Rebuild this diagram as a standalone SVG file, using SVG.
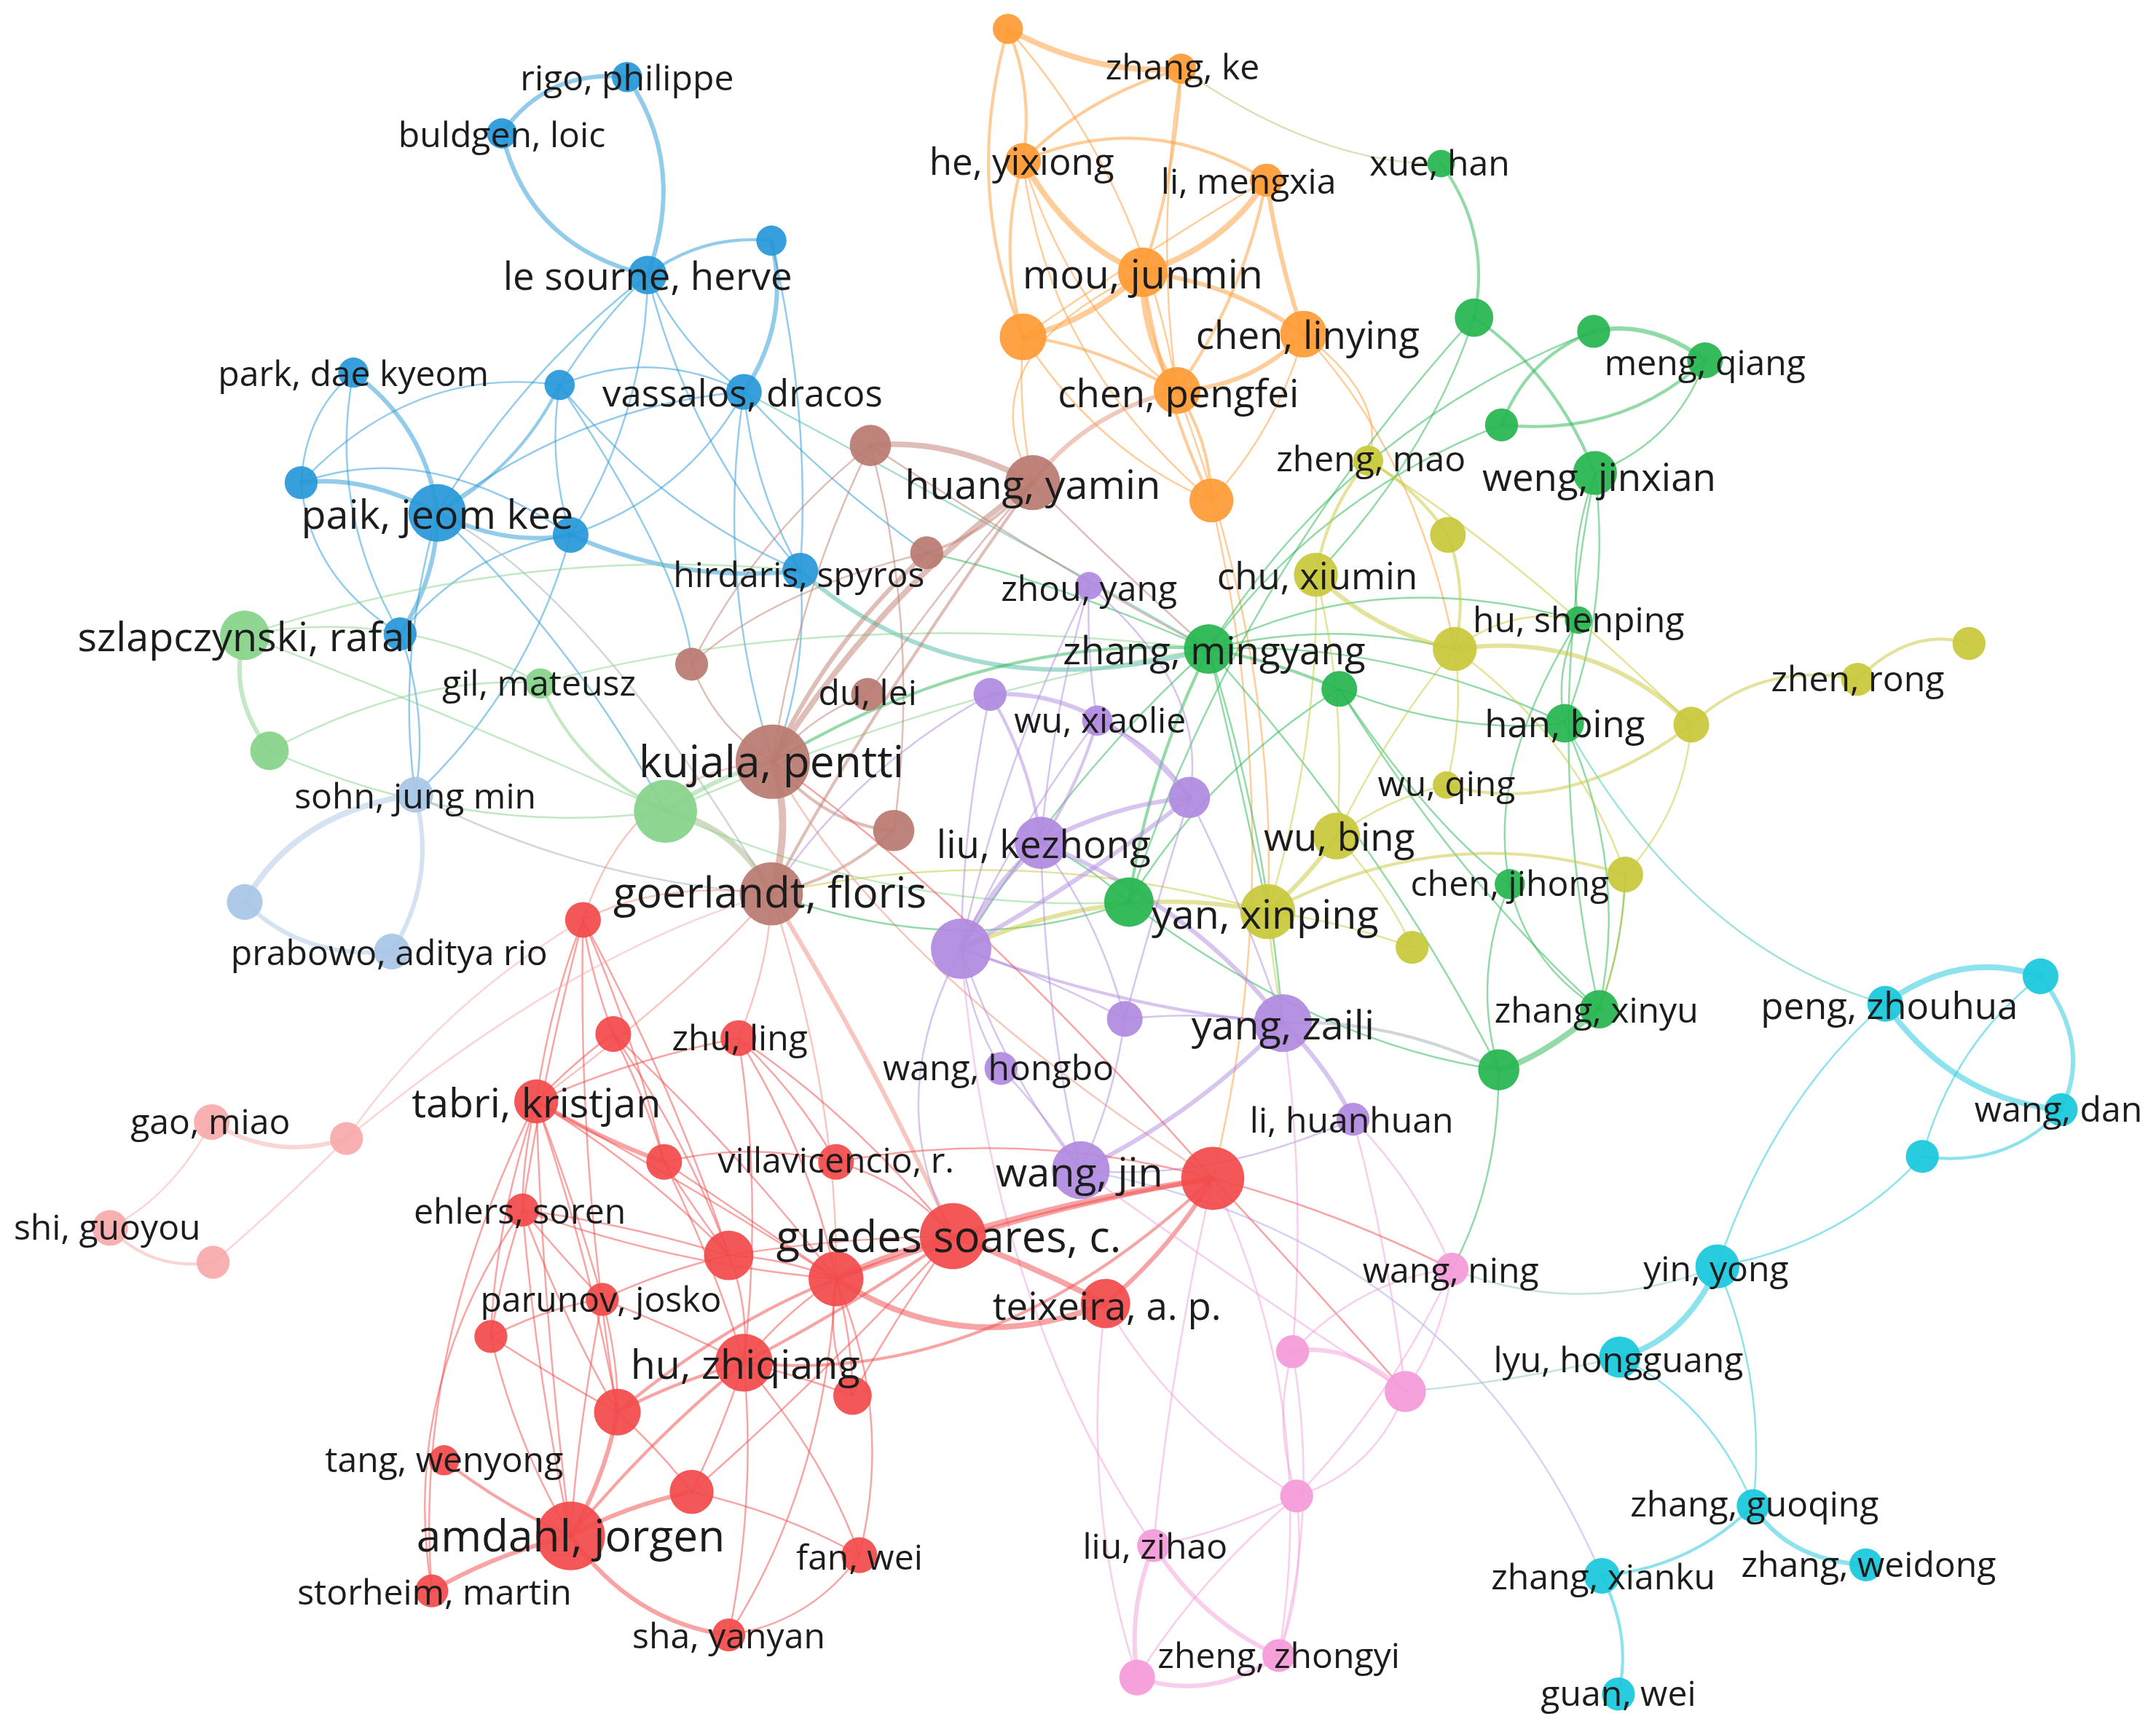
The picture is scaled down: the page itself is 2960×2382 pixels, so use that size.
<svg xmlns="http://www.w3.org/2000/svg" width="2960" height="2382" viewBox="0 0 2960 2382">
<style>
.e{fill:none;stroke-linecap:round;stroke-opacity:.5;stroke-width:1.3}
.eB{stroke:#2898d8}.eLG{stroke:#86d38a}.eLB{stroke:#a9c6e6}.eO{stroke:#ff9b35}.eBR{stroke:#c07d72}.eG{stroke:#26b64f}.eY{stroke:#c8c83a}.eP{stroke:#b08ae0}.eR{stroke:#f24a4a}.eS{stroke:#f8aaaa}.eK{stroke:#f49bd9}.eC{stroke:#19c8dc}.eT{stroke:#49b9a4}.eGr{stroke:#9fb0b8}
.w2{stroke-width:2.2}.w3{stroke-width:3.2}.w4{stroke-width:4.2}.w5{stroke-width:5.2}
circle{fill-opacity:.93}
.B{fill:#2898d8}.LG{fill:#86d38a}.LB{fill:#a9c6e6}.O{fill:#ff9b35}.BR{fill:#b97a70}.G{fill:#26b64f}.Y{fill:#c8c83a}.P{fill:#b08ae0}.R{fill:#f24a4a}.S{fill:#f8aaaa}.K{fill:#f49bd9}.C{fill:#19c8dc}
text{font-family:"Open Sans","Noto Sans","Liberation Sans",sans-serif;fill:#1c1c1c;text-anchor:middle;dominant-baseline:central}
.s{font-size:25.5px}.s2{font-size:27px}.m{font-size:28px}.l{font-size:29.5px}.xl{font-size:32px}
</style>
<rect width="2960" height="2382" fill="#ffffff"/>
<g transform="scale(1.8878)">
<g id="connectors">
<!-- blue -->
<path class="e eB w3" d="M456 56Q398 50 365 97"/>
<path class="e eB w3" d="M365 97Q385 180 471 200"/>
<path class="e eB w3" d="M456 56Q500 120 471 200"/>
<path class="e eB w2" d="M471 200Q511 170 561 175"/>
<path class="e eB w3" d="M561 175Q575 234 541 285"/>
<path class="e eB" d="M471 200Q434 236 407 280"/>
<path class="e eB" d="M471 200Q495 252 541 285"/>
<path class="e eB" d="M471 200Q470 300 415 389"/>
<path class="e eB" d="M471 200Q500 320 582 415"/>
<path class="e eB" d="M471 200Q380 270 318 373"/>
<path class="e eB w2" d="M318 373Q378 340 407 280"/>
<path class="e eB w3" d="M257 271Q310 310 318 373"/>
<path class="e eB" d="M257 271Q222 300 219 351"/>
<path class="e eB" d="M219 351Q300 265 407 280"/>
<path class="e eB" d="M257 271Q238 370 291 461"/>
<path class="e eB" d="M219 351Q225 420 291 461"/>
<path class="e eB w3" d="M219 351Q265 345 318 373"/>
<path class="e eB" d="M219 351Q310 318 415 389"/>
<path class="e eB w3" d="M318 373Q368 398 415 389"/>
<path class="e eB w3" d="M318 373Q318 420 291 461"/>
<path class="e eB w3" d="M415 389Q495 425 582 415"/>
<path class="e eB" d="M407 280Q475 252 541 285"/>
<path class="e eB" d="M407 280Q480 372 582 415"/>
<path class="e eB" d="M407 280Q398 335 415 389"/>
<path class="e eB" d="M541 285Q548 355 582 415"/>
<path class="e eB" d="M541 285Q500 360 415 389"/>
<path class="e eB" d="M541 285Q420 295 318 373"/>
<path class="e eB" d="M415 389Q340 400 291 461"/>
<path class="e eB" d="M291 461Q312 520 302 578"/>
<path class="e eB" d="M318 373Q288 480 302 578"/>
<path class="e eB" d="M415 389Q385 500 302 578"/>
<path class="e eB" d="M582 415Q588 490 562 554"/>
<path class="e eB" d="M541 285Q520 420 562 554"/>
<path class="e eB" d="M541 285Q600 350 674 402"/>
<path class="e eB" d="M561 175Q590 300 582 415"/>
<path class="e eB" d="M318 373Q420 470 484 590"/>
<path class="e eB" d="M407 280Q500 420 503 483"/>
<path class="e eGr" d="M318 373Q430 430 561 650"/>
<path class="e eT w3" d="M582 415Q700 520 879 472"/>
<path class="e eT" d="M541 285Q720 380 879 472"/>
<!-- light green -->
<path class="e eLG w3" d="M178 462Q165 505 196 546"/>
<path class="e eLG" d="M178 462Q290 440 393 497"/>
<path class="e eLG" d="M178 462Q330 520 484 590"/>
<path class="e eLG" d="M196 546Q300 490 393 497"/>
<path class="e eLG" d="M196 546Q340 610 484 590"/>
<path class="e eLG w2" d="M393 497Q420 560 484 590"/>
<path class="e eLG w3" d="M484 590Q520 565 562 554"/>
<path class="e eLG w4" d="M484 590Q535 600 561 650" style="stroke:#a8b68a"/>
<path class="e eLG" d="M484 590Q690 500 879 472"/>
<path class="e eLG" d="M484 590Q650 665 821 656"/>
<path class="e eLG" d="M178 462Q380 395 582 415"/>
<path class="e eLG" d="M393 497Q600 440 879 472"/>
<!-- light blue -->
<path class="e eLB w4" d="M302 578Q215 590 178 656"/>
<path class="e eLB w3" d="M178 656Q220 698 285 692"/>
<path class="e eLB w3" d="M302 578Q318 640 285 692"/>
<path class="e eGr" d="M302 578Q420 640 561 650"/>
<!-- orange -->
<path class="e eO w4" d="M733 21Q795 55 859 50"/>
<path class="e eO w2" d="M733 21Q752 65 744 117"/>
<path class="e eO w2" d="M733 21Q700 135 744 245"/>
<path class="e eO" d="M733 21Q830 130 856 284"/>
<path class="e eO w2" d="M859 50Q790 70 744 117"/>
<path class="e eO w2" d="M859 50Q855 130 831 198"/>
<path class="e eO" d="M859 50Q840 170 856 284"/>
<path class="e eO" d="M859 50Q960 120 1048 119" style="stroke:#bcc070"/>
<path class="e eO w4" d="M744 117Q780 180 831 198"/>
<path class="e eO w2" d="M744 117Q725 180 744 245"/>
<path class="e eO w2" d="M744 117Q835 78 921 131"/>
<path class="e eO" d="M744 117Q780 230 856 284"/>
<path class="e eO" d="M744 117Q760 260 881 364"/>
<path class="e eO w4" d="M921 131Q890 180 831 198"/>
<path class="e eO w3" d="M921 131Q930 190 948 243"/>
<path class="e eO w2" d="M921 131Q905 215 856 284"/>
<path class="e eO" d="M921 131Q845 175 744 245"/>
<path class="e eO w4" d="M831 198Q790 235 744 245"/>
<path class="e eO w3" d="M831 198Q895 205 948 243"/>
<path class="e eO w4" d="M831 198Q830 245 856 284"/>
<path class="e eO w2" d="M831 198Q845 290 881 364"/>
<path class="e eO w2" d="M744 245Q795 250 856 284"/>
<path class="e eO" d="M744 245Q740 300 751 351"/>
<path class="e eO" d="M744 245Q800 330 881 364"/>
<path class="e eO w3" d="M948 243Q910 282 856 284"/>
<path class="e eO" d="M948 243Q930 310 881 364"/>
<path class="e eO w2" d="M856 284Q880 320 881 364"/>
<path class="e eO w3" d="M856 284Q790 300 751 351" style="stroke:#e0957a"/>
<path class="e eO" d="M948 243Q1030 330 1058 472"/>
<path class="e eO" d="M881 364Q940 620 882 857"/>
<path class="e eO" d="M856 284Q930 480 922 663"/>
<path class="e eO" d="M948 243Q1010 290 995 335"/>
<path class="e eO" d="M831 198Q700 260 751 351"/>
<!-- brown -->
<path class="e eBR w4" d="M633 324Q690 318 751 351"/>
<path class="e eBR" d="M633 324Q580 430 562 554"/>
<path class="e eBR" d="M633 324Q550 390 503 483"/>
<path class="e eBR w2" d="M751 351Q715 390 674 402"/>
<path class="e eBR w4" d="M751 351Q640 430 562 554"/>
<path class="e eBR w2" d="M751 351Q630 520 561 650"/>
<path class="e eBR" d="M751 351Q690 420 631 505"/>
<path class="e eBR w3" d="M674 402Q600 470 562 554"/>
<path class="e eBR" d="M503 483Q520 530 562 554"/>
<path class="e eBR" d="M631 505Q590 520 562 554"/>
<path class="e eBR w2" d="M562 554Q600 600 650 604"/>
<path class="e eBR w5" d="M562 554Q577 600 561 650"/>
<path class="e eBR w2" d="M650 604Q610 640 561 650"/>
<path class="e eBR" d="M633 324Q670 460 650 604"/>
<path class="e eBR" d="M674 402Q560 430 503 483"/>
<path class="e eBR" d="M562 554Q460 560 424 669" style="stroke:#f0907f"/>
<path class="e eBR" d="M561 650Q480 640 424 669" style="stroke:#f0907f"/>
<path class="e eBR w3" d="M561 650Q640 780 693 899" style="stroke:#f0907f"/>
<path class="e eBR" d="M561 650Q610 800 608 930" style="stroke:#f0907f"/>
<path class="e eBR" d="M561 650Q500 720 390 801" style="stroke:#f0907f"/>
<path class="e eBR" d="M561 650Q560 700 537 755" style="stroke:#f0907f"/>
<path class="e eBR" d="M633 324Q780 420 879 472"/>
<path class="e eBR" d="M751 351Q820 420 879 472"/>
<path class="e eBR" d="M562 554Q640 700 882 857" style="stroke:#f0907f"/>
<!-- green -->
<path class="e eG w2" d="M1048 119Q1085 170 1072 231"/>
<path class="e eG w2" d="M1072 231Q1130 270 1160 344"/>
<path class="e eG w3" d="M1159 241Q1200 232 1240 262"/>
<path class="e eG w2" d="M1159 241Q1110 260 1092 309"/>
<path class="e eG w2" d="M1092 309Q1180 318 1240 262"/>
<path class="e eG" d="M1240 262Q1220 320 1160 344"/>
<path class="e eG" d="M1159 241Q980 310 879 472"/>
<path class="e eG" d="M1092 309Q960 360 879 472"/>
<path class="e eG" d="M1072 231Q900 420 821 656"/>
<path class="e eG" d="M1160 344Q1140 400 1148 451"/>
<path class="e eG" d="M1160 344Q1172 440 1138 526"/>
<path class="e eG" d="M1160 344Q1120 540 1163 734"/>
<path class="e eG" d="M1148 451Q1130 490 1138 526"/>
<path class="e eG w2" d="M879 472Q925 480 974 501"/>
<path class="e eG w2" d="M879 472Q835 560 821 656"/>
<path class="e eG" d="M879 472Q1010 465 1138 526"/>
<path class="e eG" d="M879 472Q780 560 699 690"/>
<path class="e eG" d="M879 472Q970 450 1058 472"/>
<path class="e eG" d="M879 472Q1010 620 1090 778"/>
<path class="e eG w2" d="M879 472Q720 460 562 554"/>
<path class="e eG" d="M879 472Q920 600 933 744"/>
<path class="e eG" d="M879 472Q900 560 922 663"/>
<path class="e eG" d="M974 501Q1060 535 1138 526"/>
<path class="e eG" d="M1138 526Q1185 630 1163 734"/>
<path class="e eT" d="M1138 526Q1230 690 1371 730" style="stroke:#40c8b8"/>
<path class="e eG" d="M1098 643Q1110 700 1163 734"/>
<path class="e eG" d="M1098 643Q1070 710 1090 778"/>
<path class="e eG w4" d="M1163 734Q1120 770 1090 778"/>
<path class="e eG" d="M1090 778Q960 760 821 656"/>
<path class="e eGr w2" d="M1090 778Q1010 740 933 744"/>
<path class="e eG" d="M821 656Q880 560 974 501"/>
<path class="e eG" d="M821 656Q790 628 757 613"/>
<path class="e eG" d="M1163 734Q1180 690 1182 636"/>
<path class="e eG" d="M1090 778Q1090 860 1056 923"/>
<path class="e eG" d="M1148 451Q1080 560 1098 643"/>
<path class="e eG" d="M974 501Q1040 600 1098 643"/>
<path class="e eG" d="M879 472Q1000 410 1148 451"/>
<path class="e eG" d="M879 472Q760 420 674 402"/>
<path class="e eG" d="M821 656Q700 700 561 650"/>
<path class="e eG" d="M1072 231Q1040 330 957 418"/>
<path class="e eG" d="M974 501Q1060 640 1163 734"/>
<!-- yellow -->
<path class="e eY w2" d="M995 335Q1030 355 1053 389"/>
<path class="e eY w2" d="M995 335Q965 370 957 418"/>
<path class="e eY w2" d="M1053 389Q1068 430 1058 472"/>
<path class="e eY w3" d="M957 418Q1000 460 1058 472"/>
<path class="e eY" d="M957 418Q960 540 922 663"/>
<path class="e eY" d="M957 418Q980 510 972 608"/>
<path class="e eY w3" d="M1058 472Q1160 458 1230 527"/>
<path class="e eY" d="M1058 472Q1010 530 972 608"/>
<path class="e eY" d="M1058 472Q1150 540 1182 636"/>
<path class="e eY" d="M1058 472Q1065 520 1052 571"/>
<path class="e eY w2" d="M1230 527Q1280 480 1351 494"/>
<path class="e eY w2" d="M1351 494Q1390 455 1432 468"/>
<path class="e eY" d="M1230 527Q1225 590 1182 636"/>
<path class="e eY w2" d="M1230 527Q1140 595 1052 571"/>
<path class="e eY" d="M1052 571Q1010 580 972 608"/>
<path class="e eY w3" d="M972 608Q950 640 922 663"/>
<path class="e eY" d="M972 608Q1010 650 1027 689"/>
<path class="e eY w2" d="M1182 636Q1050 595 922 663"/>
<path class="e eY" d="M1182 636Q1180 690 1163 734"/>
<path class="e eY" d="M922 663Q975 670 1027 689"/>
<path class="e eY" d="M922 663Q925 700 933 744"/>
<path class="e eY" d="M922 663Q740 610 561 650"/>
<path class="e eY w3" d="M922 663Q810 640 699 690"/>
<path class="e eY" d="M1058 472Q1100 440 1148 451"/>
<path class="e eY" d="M995 335Q1100 400 1230 527"/>
<!-- purple -->
<path class="e eP" d="M792 426Q790 475 798 524"/>
<path class="e eP" d="M792 426Q765 520 757 613"/>
<path class="e eP" d="M792 426Q730 550 699 690"/>
<path class="e eP w2" d="M720 505Q750 555 757 613"/>
<path class="e eP w3" d="M720 505Q800 500 865 580"/>
<path class="e eP" d="M798 524Q840 540 865 580"/>
<path class="e eP w2" d="M798 524Q785 570 757 613"/>
<path class="e eP" d="M798 524Q740 600 699 690"/>
<path class="e eP w3" d="M865 580Q810 585 757 613"/>
<path class="e eP w3" d="M865 580Q790 640 699 690"/>
<path class="e eP" d="M865 580Q905 660 933 744"/>
<path class="e eP" d="M865 580Q840 660 818 741"/>
<path class="e eP w4" d="M757 613Q720 645 699 690"/>
<path class="e eP" d="M757 613Q800 670 818 741"/>
<path class="e eP w3" d="M757 613Q870 660 933 744"/>
<path class="e eP" d="M757 613Q760 740 786 851"/>
<path class="e eP" d="M699 690Q760 710 818 741"/>
<path class="e eP w2" d="M699 690Q820 735 933 744"/>
<path class="e eP" d="M699 690Q705 740 728 777"/>
<path class="e eP" d="M699 690Q730 780 786 851"/>
<path class="e eP" d="M818 741Q875 735 933 744"/>
<path class="e eP" d="M818 741Q810 800 786 851"/>
<path class="e eP w3" d="M933 744Q870 810 786 851"/>
<path class="e eP w3" d="M933 744Q965 775 984 814"/>
<path class="e eP" d="M728 777Q760 810 786 851"/>
<path class="e eP" d="M786 851Q880 860 984 814"/>
<path class="e eP" d="M786 851Q1060 900 1165 1146" style="stroke:#a8a8e8"/>
<path class="e eP" d="M720 505Q700 600 699 690"/>
<path class="e eP" d="M720 505Q620 560 561 650"/>
<path class="e eP" d="M792 426Q880 500 865 580"/>
<path class="e eP" d="M699 690Q640 800 693 899"/>
<path class="e eK" d="M984 814Q1010 910 1022 1012"/>
<path class="e eK" d="M699 690Q720 950 839 1124"/>
<path class="e eK" d="M933 744Q950 860 940 983"/>
<!-- red -->
<path class="e eR" d="M424 669Q430 710 446 752"/>
<path class="e eR" d="M424 669Q400 730 390 801"/>
<path class="e eR" d="M424 669Q395 780 380 880"/>
<path class="e eR" d="M424 669Q460 750 483 845"/>
<path class="e eR" d="M424 669Q490 790 530 913"/>
<path class="e eR" d="M424 669Q420 850 449 1027"/>
<path class="e eR" d="M446 752Q420 770 390 801"/>
<path class="e eR" d="M446 752Q470 800 483 845"/>
<path class="e eR" d="M446 752Q500 830 530 913"/>
<path class="e eR" d="M446 752Q540 840 608 930"/>
<path class="e eR" d="M537 755Q580 795 608 845"/>
<path class="e eR" d="M537 755Q620 810 693 899"/>
<path class="e eR" d="M537 755Q590 840 608 930"/>
<path class="e eR" d="M537 755Q460 770 390 801"/>
<path class="e eR" d="M537 755Q555 870 541 991"/>
<path class="e eR w3" d="M390 801Q440 830 483 845"/>
<path class="e eR" d="M390 801Q380 840 380 880"/>
<path class="e eR" d="M390 801Q470 850 530 913"/>
<path class="e eR" d="M390 801Q500 860 608 930"/>
<path class="e eR" d="M390 801Q360 890 357 972"/>
<path class="e eR" d="M390 801Q430 920 449 1027"/>
<path class="e eR" d="M390 801Q395 960 415 1117"/>
<path class="e eR" d="M390 801Q300 980 314 1157"/>
<path class="e eR" d="M390 801Q420 880 438 945"/>
<path class="e eR" d="M483 845Q545 830 608 845"/>
<path class="e eR" d="M483 845Q505 880 530 913"/>
<path class="e eR" d="M483 845Q550 890 608 930"/>
<path class="e eR" d="M483 845Q520 920 541 991"/>
<path class="e eR" d="M608 845Q660 860 693 899"/>
<path class="e eR" d="M608 845Q745 820 882 857"/>
<path class="e eR" d="M380 880Q455 890 530 913"/>
<path class="e eR" d="M380 880Q490 920 608 930"/>
<path class="e eR" d="M380 880Q410 915 438 945"/>
<path class="e eR" d="M380 880Q365 925 357 972"/>
<path class="e eR" d="M380 880Q410 960 449 1027"/>
<path class="e eR" d="M380 880Q390 1000 415 1117"/>
<path class="e eR w4" d="M693 899Q650 910 608 930"/>
<path class="e eR w4" d="M693 899Q790 870 882 857"/>
<path class="e eR w4" d="M693 899Q750 920 804 948"/>
<path class="e eR" d="M693 899Q610 900 530 913"/>
<path class="e eR w2" d="M693 899Q620 950 541 991"/>
<path class="e eR" d="M693 899Q650 960 620 1015"/>
<path class="e eR w3" d="M608 930Q745 880 882 857"/>
<path class="e eR w4" d="M608 930Q700 990 804 948"/>
<path class="e eR" d="M608 930Q570 955 541 991"/>
<path class="e eR" d="M608 930Q620 975 620 1015"/>
<path class="e eR" d="M608 930Q570 915 530 913"/>
<path class="e eR w3" d="M882 857Q850 910 804 948"/>
<path class="e eR w2" d="M882 857Q720 1010 541 991"/>
<path class="e eR" d="M882 857Q950 930 1022 1012"/>
<path class="e eR" d="M882 857Q970 880 1056 923"/>
<path class="e eR" d="M882 857Q700 650 562 554"/>
<path class="e eR" d="M438 945Q490 965 541 991"/>
<path class="e eR" d="M438 945Q480 925 530 913"/>
<path class="e eR" d="M438 945Q450 990 449 1027"/>
<path class="e eR" d="M438 945Q420 1040 415 1117"/>
<path class="e eR" d="M357 972Q400 1000 449 1027"/>
<path class="e eR" d="M357 972Q375 1050 415 1117"/>
<path class="e eR" d="M357 972Q400 950 438 945"/>
<path class="e eR" d="M541 991Q580 1000 620 1015"/>
<path class="e eR w2" d="M541 991Q490 1005 449 1027"/>
<path class="e eR" d="M541 991Q525 1040 503 1085"/>
<path class="e eR w2" d="M541 991Q470 1050 415 1117"/>
<path class="e eR" d="M541 991Q600 1060 625 1131"/>
<path class="e eR" d="M541 991Q550 1090 530 1189"/>
<path class="e eR" d="M530 913Q545 950 541 991"/>
<path class="e eR w3" d="M449 1027Q440 1075 415 1117"/>
<path class="e eR" d="M449 1027Q480 1055 503 1085"/>
<path class="e eR w2" d="M323 1062Q365 1095 415 1117"/>
<path class="e eR w3" d="M503 1085Q455 1095 415 1117"/>
<path class="e eR" d="M503 1085Q570 1100 625 1131"/>
<path class="e eR w3" d="M415 1117Q360 1130 314 1157"/>
<path class="e eR w3" d="M415 1117Q460 1180 530 1189"/>
<path class="e eR" d="M625 1131Q590 1180 530 1189"/>
<path class="e eR" d="M314 1157Q290 1010 380 880"/>
<path class="e eR" d="M625 1131Q650 1030 608 930"/>
<path class="e eR" d="M530 1189Q600 1080 608 930"/>
<path class="e eR" d="M620 1015Q600 980 608 930"/>
<path class="e eR w2" d="M449 1027Q530 960 608 930"/>
<path class="e eR" d="M503 1085Q600 1000 693 899"/>
<path class="e eK" d="M804 948Q785 1090 827 1220"/>
<path class="e eK" d="M882 857Q960 1020 930 1204"/>
<path class="e eK" d="M882 857Q850 1000 839 1124"/>
<path class="e eK" d="M804 948Q850 1030 943 1088"/>
<!-- salmon -->
<path class="e eS w3" d="M154 816Q200 845 252 828"/>
<path class="e eS" d="M154 816Q125 870 80 893"/>
<path class="e eS" d="M252 828Q200 880 155 918"/>
<path class="e eS w2" d="M80 893Q110 925 155 918"/>
<path class="e eS" d="M252 828Q320 730 424 669"/>
<path class="e eS" d="M252 828Q420 690 561 650"/>
<!-- pink -->
<path class="e eK" d="M1056 923Q990 930 940 983"/>
<path class="e eK" d="M1056 923Q1050 970 1022 1012"/>
<path class="e eK" d="M1056 923Q1010 1020 943 1088"/>
<path class="e eK w3" d="M940 983Q980 975 1022 1012"/>
<path class="e eK" d="M940 983Q925 1035 943 1088"/>
<path class="e eK" d="M940 983Q960 1100 930 1204"/>
<path class="e eK" d="M1022 1012Q1000 1070 943 1088"/>
<path class="e eK" d="M1022 1012Q910 940 786 851"/>
<path class="e eK" d="M943 1088Q890 1115 839 1124"/>
<path class="e eK" d="M943 1088Q950 1150 930 1204"/>
<path class="e eK" d="M943 1088Q870 1150 827 1220"/>
<path class="e eK w3" d="M839 1124Q875 1180 930 1204"/>
<path class="e eK w3" d="M839 1124Q820 1170 827 1220"/>
<path class="e eK w3" d="M930 1204Q880 1238 827 1220"/>
<path class="e eK" d="M1056 923Q1030 860 984 814"/>
<path class="e eGr" d="M1056 923Q1150 960 1249 921" style="stroke:#8cc8c0"/>
<path class="e eGr" d="M1022 1012Q1100 1005 1178 987" style="stroke:#8cc8c0"/>
<!-- cyan -->
<path class="e eC w4" d="M1371 730Q1425 690 1484 710"/>
<path class="e eC w4" d="M1371 730Q1420 800 1499 807"/>
<path class="e eC w3" d="M1484 710Q1522 760 1499 807"/>
<path class="e eC" d="M1484 710Q1420 760 1398 841"/>
<path class="e eC w2" d="M1499 807Q1460 850 1398 841"/>
<path class="e eC" d="M1371 730Q1290 800 1249 921"/>
<path class="e eC" d="M1398 841Q1340 905 1249 921"/>
<path class="e eC w4" d="M1249 921Q1225 975 1178 987"/>
<path class="e eC" d="M1249 921Q1285 1005 1275 1095"/>
<path class="e eC" d="M1178 987Q1245 1020 1275 1095"/>
<path class="e eC w3" d="M1275 1095Q1300 1135 1357 1138"/>
<path class="e eC w2" d="M1275 1095Q1230 1140 1165 1146"/>
<path class="e eC w2" d="M1165 1146Q1187 1190 1177 1232"/>
</g>
<g id="nodes">
<g id="n-b4"><circle class="B" cx="561" cy="175" r="11"/></g>
<g id="n-b6"><circle class="B" cx="407" cy="280" r="11"/></g>
<g id="n-b8"><circle class="B" cx="219" cy="351" r="12"/></g>
<g id="n-b10"><circle class="B" cx="415" cy="389" r="13"/></g>
<g id="n-b12"><circle class="B" cx="291" cy="461" r="12"/></g>
<g id="n-lg2"><circle class="LG" cx="196" cy="546" r="14"/></g>
<g id="n-lg4"><circle class="LG" cx="484" cy="590" r="23"/></g>
<g id="n-lb2"><circle class="LB" cx="178" cy="656" r="13"/></g>
<g id="n-o1"><circle class="O" cx="733" cy="21" r="11"/></g>
<g id="n-o6"><circle class="O" cx="744" cy="245" r="17"/></g>
<g id="n-o9"><circle class="O" cx="881" cy="364" r="16"/></g>
<g id="n-br1"><circle class="BR" cx="633" cy="324" r="15"/></g>
<g id="n-br3"><circle class="BR" cx="674" cy="402" r="12"/></g>
<g id="n-br4"><circle class="BR" cx="503" cy="483" r="12"/></g>
<g id="n-br7"><circle class="BR" cx="650" cy="604" r="15"/></g>
<g id="n-g2"><circle class="G" cx="1072" cy="231" r="14"/></g>
<g id="n-g3"><circle class="G" cx="1159" cy="241" r="12"/></g>
<g id="n-g5"><circle class="G" cx="1092" cy="309" r="12"/></g>
<g id="n-g9"><circle class="G" cx="974" cy="501" r="13"/></g>
<g id="n-g14"><circle class="G" cx="1090" cy="778" r="15"/></g>
<g id="n-y2"><circle class="Y" cx="1053" cy="389" r="13"/></g>
<g id="n-y4"><circle class="Y" cx="1058" cy="472" r="16"/></g>
<g id="n-y5"><circle class="Y" cx="1230" cy="527" r="13"/></g>
<g id="n-y7"><circle class="Y" cx="1432" cy="468" r="12"/></g>
<g id="n-y10"><circle class="Y" cx="1182" cy="636" r="13"/></g>
<g id="n-y12"><circle class="Y" cx="1027" cy="689" r="12"/></g>
<g id="n-p2"><circle class="P" cx="720" cy="505" r="12"/></g>
<g id="n-p4"><circle class="P" cx="865" cy="580" r="15"/></g>
<g id="n-p6"><circle class="P" cx="699" cy="690" r="22"/></g>
<g id="n-p7"><circle class="P" cx="818" cy="741" r="13"/></g>
<g id="n-r1"><circle class="R" cx="424" cy="669" r="13"/></g>
<g id="n-r2"><circle class="R" cx="446" cy="752" r="13"/></g>
<g id="n-r5"><circle class="R" cx="483" cy="845" r="13"/></g>
<g id="n-r9"><circle class="R" cx="530" cy="913" r="18"/></g>
<g id="n-r10"><circle class="R" cx="608" cy="930" r="20"/></g>
<g id="n-r11"><circle class="R" cx="882" cy="857" r="23"/></g>
<g id="n-r14"><circle class="R" cx="357" cy="972" r="12"/></g>
<g id="n-r16"><circle class="R" cx="620" cy="1015" r="14"/></g>
<g id="n-r17"><circle class="R" cx="449" cy="1027" r="17"/></g>
<g id="n-r19"><circle class="R" cx="503" cy="1085" r="16"/></g>
<g id="n-s2"><circle class="S" cx="252" cy="828" r="12"/></g>
<g id="n-s4"><circle class="S" cx="155" cy="918" r="12"/></g>
<g id="n-k2"><circle class="K" cx="940" cy="983" r="12"/></g>
<g id="n-k3"><circle class="K" cx="1022" cy="1012" r="15"/></g>
<g id="n-k4"><circle class="K" cx="943" cy="1088" r="12"/></g>
<g id="n-k7"><circle class="K" cx="827" cy="1220" r="13"/></g>
<g id="n-c2"><circle class="C" cx="1484" cy="710" r="13"/></g>
<g id="n-c4"><circle class="C" cx="1398" cy="841" r="12"/></g>

<g id="n-rigo-philippe"><circle class="B" cx="456" cy="56" r="11"/><text class="s" x="456" y="56">rigo, philippe</text></g>
<g id="n-buldgen-loic"><circle class="B" cx="365" cy="97" r="11"/><text class="s" x="365" y="97">buldgen, loic</text></g>
<g id="n-le-sourne-herve"><circle class="B" cx="471" cy="200" r="14"/><text class="m" x="471" y="200">le sourne, herve</text></g>
<g id="n-park-dae-kyeom"><circle class="B" cx="257" cy="271" r="11"/><text class="s" x="257" y="271">park, dae kyeom</text></g>
<g id="n-vassalos-dracos"><circle class="B" cx="541" cy="285" r="13"/><text class="s2" x="540" y="285">vassalos, dracos</text></g>
<g id="n-paik-jeom-kee"><circle class="B" cx="318" cy="373" r="21"/><text class="l" x="318" y="373">paik, jeom kee</text></g>
<g id="n-hirdaris-spyros"><circle class="B" cx="582" cy="415" r="13"/><text class="s" x="581" y="417">hirdaris, spyros</text></g>
<g id="n-szlapczynski-rafal"><circle class="LG" cx="178" cy="462" r="18"/><text class="l" x="179" y="462">szlapczynski, rafal</text></g>
<g id="n-gil-mateusz"><circle class="LG" cx="393" cy="497" r="11"/><text class="s" x="392" y="496">gil, mateusz</text></g>
<g id="n-sohn-jung-min"><circle class="LB" cx="302" cy="578" r="13"/><text class="s" x="302" y="578">sohn, jung min</text></g>
<g id="n-prabowo-aditya-rio"><circle class="LB" cx="285" cy="692" r="13"/><text class="s" x="283" y="692">prabowo, aditya rio</text></g>
<g id="n-zhang-ke"><circle class="O" cx="859" cy="50" r="11"/><text class="s" x="860" y="48">zhang, ke</text></g>
<g id="n-he-yixiong"><circle class="O" cx="744" cy="117" r="13"/><text class="s2" x="743" y="117">he, yixiong</text></g>
<g id="n-li-mengxia"><circle class="O" cx="921" cy="131" r="12"/><text class="s" x="908" y="131">li, mengxia</text></g>
<g id="n-mou-junmin"><circle class="O" cx="831" cy="198" r="18"/><text class="l" x="831" y="198">mou, junmin</text></g>
<g id="n-chen-linying"><circle class="O" cx="948" cy="243" r="17"/><text class="m" x="951" y="243">chen, linying</text></g>
<g id="n-chen-pengfei"><circle class="O" cx="856" cy="284" r="17"/><text class="m" x="857" y="285">chen, pengfei</text></g>
<g id="n-huang-yamin"><circle class="BR" cx="751" cy="351" r="20"/><text class="l" x="751" y="351">huang, yamin</text></g>
<g id="n-du-lei"><circle class="BR" cx="631" cy="505" r="12"/><text class="s" x="631" y="503">du, lei</text></g>
<g id="n-kujala-pentti"><circle class="BR" cx="562" cy="554" r="27"/><text class="xl" x="561" y="553">kujala, pentti</text></g>
<g id="n-goerlandt-floris"><circle class="BR" cx="561" cy="650" r="23"/><text class="xl" x="560" y="648" style="font-size:31px">goerlandt, floris</text></g>
<g id="n-xue-han"><circle class="G" cx="1048" cy="119" r="10"/><text class="s" x="1047" y="118">xue, han</text></g>
<g id="n-meng-qiang"><circle class="G" cx="1240" cy="262" r="13"/><text class="s" x="1240" y="263">meng, qiang</text></g>
<g id="n-weng-jinxian"><circle class="G" cx="1160" cy="344" r="16"/><text class="m" x="1163" y="346">weng, jinxian</text></g>
<g id="n-hu-shenping"><circle class="G" cx="1148" cy="451" r="10"/><text class="s" x="1148" y="450">hu, shenping</text></g>
<g id="n-zhang-mingyang"><circle class="G" cx="879" cy="472" r="18"/><text class="m" x="883" y="472">zhang, mingyang</text></g>
<g id="n-han-bing"><circle class="G" cx="1138" cy="526" r="14"/><text class="s2" x="1138" y="526">han, bing</text></g>
<g id="n-chen-jihong"><circle class="G" cx="1098" cy="643" r="11"/><text class="s" x="1098" y="642">chen, jihong</text></g>
<g id="n-zhang-xinyu"><circle class="G" cx="1163" cy="734" r="14"/><text class="s" x="1161" y="734">zhang, xinyu</text></g>
<g id="n-zheng-mao"><circle class="Y" cx="995" cy="335" r="11"/><text class="s" x="997" y="333">zheng, mao</text></g>
<g id="n-chu-xiumin"><circle class="Y" cx="957" cy="418" r="16"/><text class="s2" x="958" y="418">chu, xiumin</text></g>
<g id="n-zhen-rong"><circle class="Y" cx="1351" cy="494" r="12"/><text class="s" x="1351" y="493">zhen, rong</text></g>
<g id="n-wu-qing"><circle class="Y" cx="1052" cy="571" r="10"/><text class="s" x="1052" y="569">wu, qing</text></g>
<g id="n-wu-bing"><circle class="Y" cx="972" cy="608" r="17"/><text class="m" x="974" y="608">wu, bing</text></g>
<g id="n-zhou-yang"><circle class="P" cx="792" cy="426" r="10"/><text class="s" x="792" y="427">zhou, yang</text></g>
<g id="n-wu-xiaolie"><circle class="P" cx="798" cy="524" r="11"/><text class="s" x="800" y="523">wu, xiaolie</text></g>
<g id="n-liu-kezhong"><circle class="P" cx="757" cy="613" r="19"/><text class="m" x="759" y="613">liu, kezhong</text></g>
<g id="n-yan-xinping-g"><circle class="G" cx="821" cy="656" r="18"/></g>
<g id="n-yan-xinping"><circle class="Y" cx="922" cy="663" r="20"/><text class="l" x="920" y="664">yan, xinping</text></g>
<g id="n-yang-zaili"><circle class="P" cx="933" cy="744" r="21"/><text class="l" x="933" y="744">yang, zaili</text></g>
<g id="n-wang-hongbo"><circle class="P" cx="728" cy="777" r="12"/><text class="s" x="726" y="776">wang, hongbo</text></g>
<g id="n-li-huanhuan"><circle class="P" cx="984" cy="814" r="12"/><text class="s" x="983" y="814">li, huanhuan</text></g>
<g id="n-wang-jin"><circle class="P" cx="786" cy="851" r="21"/><text class="l" x="785" y="851">wang, jin</text></g>
<g id="n-zhu-ling"><circle class="R" cx="537" cy="755" r="13"/><text class="s" x="538" y="754">zhu, ling</text></g>
<g id="n-tabri-kristjan"><circle class="R" cx="390" cy="801" r="16"/><text class="l" x="390" y="801">tabri, kristjan</text></g>
<g id="n-villavicencio-r"><circle class="R" cx="608" cy="845" r="13"/><text class="s" x="608" y="843">villavicencio, r.</text></g>
<g id="n-ehlers-soren"><circle class="R" cx="380" cy="880" r="12"/><text class="s" x="378" y="880">ehlers, soren</text></g>
<g id="n-guedes-soares-c"><circle class="R" cx="693" cy="899" r="24"/><text class="xl" x="690" y="898" style="font-size:31.5px">guedes soares, c.</text></g>
<g id="n-parunov-josko"><circle class="R" cx="438" cy="945" r="12"/><text class="s" x="437" y="944">parunov, josko</text></g>
<g id="n-teixeira-a-p"><circle class="R" cx="804" cy="948" r="18"/><text class="m" x="805" y="949">teixeira, a. p.</text></g>
<g id="n-hu-zhiqiang"><circle class="R" cx="541" cy="991" r="21"/><text class="l" x="542" y="991">hu, zhiqiang</text></g>
<g id="n-tang-wenyong"><circle class="R" cx="323" cy="1062" r="11"/><text class="s" x="323" y="1061">tang, wenyong</text></g>
<g id="n-amdahl-jorgen"><circle class="R" cx="415" cy="1117" r="25"/><text class="xl" x="415" y="1116">amdahl, jorgen</text></g>
<g id="n-fan-wei"><circle class="R" cx="625" cy="1131" r="13"/><text class="s" x="625" y="1132">fan, wei</text></g>
<g id="n-storheim-martin"><circle class="R" cx="314" cy="1157" r="12"/><text class="s" x="316" y="1157">storheim, martin</text></g>
<g id="n-sha-yanyan"><circle class="R" cx="530" cy="1189" r="12"/><text class="s" x="530" y="1189">sha, yanyan</text></g>
<g id="n-gao-miao"><circle class="S" cx="154" cy="816" r="13"/><text class="s" x="153" y="815">gao, miao</text></g>
<g id="n-shi-guoyou"><circle class="S" cx="80" cy="893" r="13"/><text class="s" x="78" y="892">shi, guoyou</text></g>
<g id="n-wang-ning"><circle class="K" cx="1056" cy="923" r="12"/><text class="s" x="1055" y="923">wang, ning</text></g>
<g id="n-liu-zihao"><circle class="K" cx="839" cy="1124" r="12"/><text class="s" x="840" y="1124">liu, zihao</text></g>
<g id="n-zheng-zhongyi"><circle class="K" cx="930" cy="1204" r="12"/><text class="s" x="930" y="1203">zheng, zhongyi</text></g>
<g id="n-peng-zhouhua"><circle class="C" cx="1371" cy="730" r="13"/><text class="s2" x="1374" y="731">peng, zhouhua</text></g>
<g id="n-wang-dan"><circle class="C" cx="1499" cy="807" r="12"/><text class="s" x="1497" y="806">wang, dan</text></g>
<g id="n-yin-yong"><circle class="C" cx="1249" cy="921" r="16"/><text class="s" x="1248" y="922">yin, yong</text></g>
<g id="n-lyu-hongguang"><circle class="C" cx="1178" cy="987" r="15"/><text class="s" x="1177" y="988">lyu, hongguang</text></g>
<g id="n-zhang-guoqing"><circle class="C" cx="1275" cy="1095" r="12"/><text class="s" x="1276" y="1093">zhang, guoqing</text></g>
<g id="n-zhang-weidong"><circle class="C" cx="1357" cy="1138" r="12"/><text class="s" x="1359" y="1137">zhang, weidong</text></g>
<g id="n-zhang-xianku"><circle class="C" cx="1165" cy="1146" r="13"/><text class="s" x="1166" y="1146">zhang, xianku</text></g>
<g id="n-guan-wei"><circle class="C" cx="1177" cy="1232" r="12"/><text class="s" x="1177" y="1231">guan, wei</text></g>
</g>
</g>
</svg>
